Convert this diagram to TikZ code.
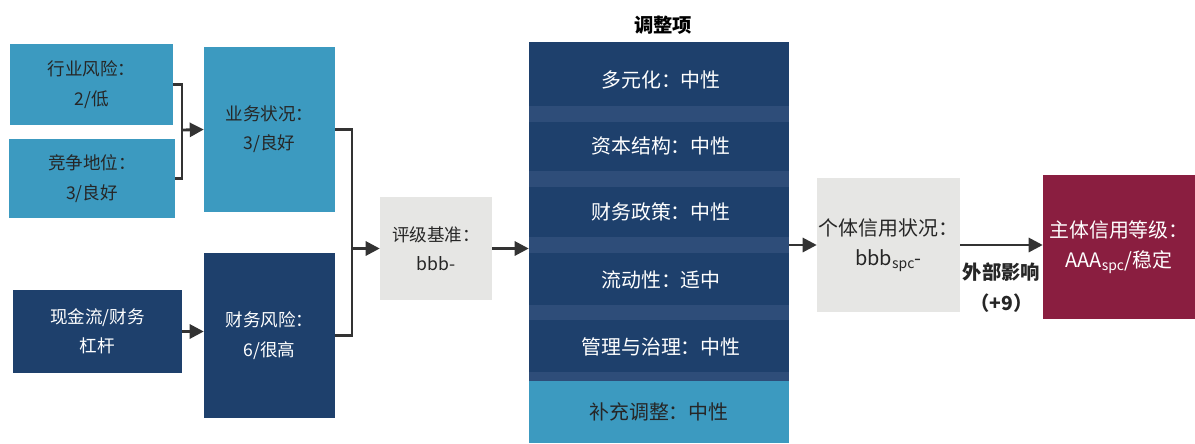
\documentclass[tikz,border=0pt]{standalone}
\usepackage{fontspec}
\setmainfont{Noto Sans CJK SC}
\usetikzlibrary{arrows.meta}

\definecolor{lightblue}{HTML}{3C9AC0}
\definecolor{darkblue}{HTML}{1E406C}
\definecolor{bandblue}{HTML}{2E4D79}
\definecolor{greybox}{HTML}{E6E6E4}
\definecolor{wine}{HTML}{8A1E40}
\definecolor{arrowgrey}{HTML}{333333}

\begin{document}
\begin{tikzpicture}[x=0.03cm, y=-0.03cm,
        every node/.style={font=\fontsize{15}{25}\selectfont, align=center, inner sep=0pt},
        big/.style={font=\fontsize{17}{26}\selectfont},
        lbox/.style={fill=lightblue, text=black!85},
        dbox/.style={fill=darkblue, text=white},
        gbox/.style={fill=greybox, text=black!85},
        rbox/.style={fill=wine, text=white},
        link/.style={line width=2.4pt, draw=arrowgrey},
        arr/.style={link, -{Triangle[length=12pt,width=12pt]}}]
            \useasboundingbox (0,0) rectangle (1195,443);
            \node[lbox, minimum width=4.89cm, minimum height=2.43cm] (hy) at (91.5,84.5) {行业风险：\\2/低};
            \node[lbox, minimum width=4.98cm, minimum height=2.37cm] (jz) at (92,178.5) {竞争地位：\\3/良好};
            \node[lbox, minimum width=3.93cm, minimum height=4.95cm] (yw) at (269.5,129.5) {业务状况：\\3/良好};
            \node[dbox, minimum width=5.07cm, minimum height=2.49cm] (xj) at (97.5,331.5) {现金流/财务\\杠杆};
            \node[dbox, minimum width=3.93cm, minimum height=4.95cm] (cw) at (269.5,335.5) {财务风险：\\6/很高};
            \node[gbox, minimum width=3.36cm, minimum height=3.09cm] (pj) at (436,248.5) {评级基准：\\bbb-};
            \node[font=\fontsize{16.5}{18}\selectfont\bfseries] (title) at (663,25) {调整项};
            \node[dbox, minimum width=7.8cm, minimum height=10.17cm] (col) at (659,211.5) {};
            \foreach \ya/\yb in {106/122, 171/187, 237/253, 305/320, 372/381}
                \fill[bandblue] (529,\ya) rectangle (789,\yb);
            \foreach \yy/\txt [count=\i] in {80/多元化：中性, 146/资本结构：中性, 212/财务政策：中性, 280/流动性：适中, 347/管理与治理：中性}
                \node[big, text=white] (r\i) at (661,\yy) {\txt};
            \node[lbox, big, minimum width=7.8cm, minimum height=1.86cm] (bc) at (659,412) {补充调整：中性};
            \node[gbox, big, minimum width=4.29cm, minimum height=4.02cm] (gt) at (888.5,245) {个体信用状况：\\bbb\textsubscript{spc}-};
            \node[rbox, big, minimum width=4.56cm, minimum height=4.32cm] (zt) at (1119,247) {主体信用等级：\\AAA\textsubscript{spc}/稳定};
            \coordinate (bx) at (182,130);
            \coordinate (vx) at (352,248.5);
            \draw[link] (hy.east) -| (bx) |- (jz.east);
            \draw[arr] (bx) -- (yw.west);
            \draw[arr] (xj.east) -- (xj.east -| cw.west);
            \draw[link] (yw.east) -| (vx);
            \draw[link] (cw.east) -| (vx);
            \draw[arr] (vx) -- (pj.west);
            \draw[arr] (pj.east) -- (pj.east -| col.west);
            \draw[arr] (gt.west -| col.east) -- (gt.west);
            \draw[arr] (gt.east) -- (gt.east -| zt.west) node[midway, below=0.5cm, text=black!85, font=\fontsize{16.5}{26}\selectfont\bfseries] {外部影响\\（+9）};
        \end{tikzpicture}
\end{document}
